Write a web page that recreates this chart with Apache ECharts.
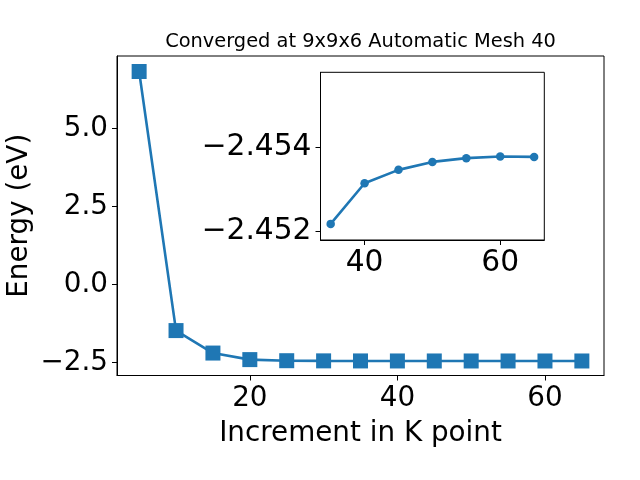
<!DOCTYPE html>
<html>
<head>
<meta charset="utf-8">
<script src="https://cdn.jsdelivr.net/npm/echarts@6/dist/echarts.min.js"></script>
<style>html,body{margin:0;padding:0;background:#fff;}#c{width:640px;height:480px;}</style>
</head>
<body>
<div id="c"></div>
<script>
// Main chart data
const kPoints = [5, 10, 15, 20, 25, 30, 35, 40, 45, 50, 55, 60, 65];
const energies = [6.82, -1.48, -2.20, -2.41, -2.445, -2.450, -2.45217, -2.45314, -2.45346, -2.45365, -2.45374, -2.45378, -2.45377];
// Inset data
const insetK = [35, 40, 45, 50, 55, 60, 65];
const insetEnergies = [-2.45217, -2.45314, -2.45346, -2.45365, -2.45374, -2.45378, -2.45377];
// Tick labels
const mainXTicks = [20, 40, 60];
const mainYTicks = [-2.5, 0, 2.5, 5];
const insetXTicks = [40, 60];
const insetYTicks = [-2.454, -2.452];

const titleText = 'Converged at 9x9x6 Automatic Mesh 40';
const xName = 'Increment in K point';
const yName = 'Energy (eV)';

const FONT = 'DejaVu Sans';
const C = '#1f77b4';
const fmt = (d) => (v) => (v < 0 ? '\u2212' : '') + Math.abs(v).toFixed(d);

const chart = echarts.init(document.getElementById('c'), null, {renderer: 'canvas'});

const axisCommon = {
  axisLine: {show: true, onZero: false, lineStyle: {color: '#000', width: 1}},
  splitLine: {show: false},
};

chart.setOption({
  animation: false,
  backgroundColor: '#fff',
  graphic: [{
    type: 'text', x: 360.5, y: 42,
    style: {text: titleText, font: '19.4px "DejaVu Sans"', fill: '#000', textAlign: 'center', textVerticalAlign: 'middle'}
  }],
  grid: [
    {left: 117, right: 36, top: 56, bottom: 104.5, show: true, borderColor: '#000', borderWidth: 1, backgroundColor: '#fff', containLabel: false, outerBoundsMode: 'none'},
    {left: 320.5, right: 95.7, top: 72.3, bottom: 240, show: true, borderColor: '#000', borderWidth: 1, backgroundColor: '#fff', containLabel: false, outerBoundsMode: 'none', z: 5}
  ],
  xAxis: [
    Object.assign({}, axisCommon, {
      type: 'value', gridIndex: 0, min: 2, max: 68,
      name: xName, nameLocation: 'middle', nameGap: 44, nameMoveOverlap: false,
      nameTextStyle: {fontFamily: FONT, fontSize: 27.8, color: '#000'},
      axisTick: {show: true, length: 5, lineStyle: {color: '#000'}, customValues: mainXTicks},
      axisLabel: {fontFamily: FONT, fontSize: 27.8, color: '#000', margin: 9, customValues: mainXTicks, formatter: (v) => String(v)}
    }),
    Object.assign({}, axisCommon, {
      type: 'value', gridIndex: 1, min: 33.5, max: 66.5, z: 6,
      axisTick: {show: true, length: 5, lineStyle: {color: '#000'}, customValues: insetXTicks},
      axisLabel: {fontFamily: FONT, fontSize: 29.7, color: '#000', margin: 8, customValues: insetXTicks, formatter: (v) => String(v)}
    })
  ],
  yAxis: [
    Object.assign({}, axisCommon, {
      type: 'value', gridIndex: 0, min: -2.919, max: 7.317,
      name: yName, nameLocation: 'middle', nameGap: 83, nameMoveOverlap: false,
      nameTextStyle: {fontFamily: FONT, fontSize: 27.8, color: '#000'},
      axisTick: {show: true, length: 5, lineStyle: {color: '#000'}, customValues: mainYTicks},
      axisLabel: {fontFamily: FONT, fontSize: 27.8, color: '#000', margin: 9, customValues: mainYTicks, formatter: fmt(1)}
    }),
    Object.assign({}, axisCommon, {
      type: 'value', gridIndex: 1, min: -2.45579, max: -2.451785, inverse: true, z: 6,
      axisTick: {show: true, length: 5, lineStyle: {color: '#000'}, customValues: insetYTicks},
      axisLabel: {fontFamily: FONT, fontSize: 29.7, color: '#000', margin: 9, customValues: insetYTicks, formatter: fmt(3)}
    })
  ],
  series: [
    {
      type: 'line', xAxisIndex: 0, yAxisIndex: 0,
      data: kPoints.map((k, i) => [k, energies[i]]),
      symbol: 'rect', symbolSize: 15, showSymbol: true,
      lineStyle: {color: C, width: 2.6}, itemStyle: {color: C},
      emphasis: {disabled: true}, z: 2
    },
    {
      type: 'line', xAxisIndex: 1, yAxisIndex: 1,
      data: insetK.map((k, i) => [k, insetEnergies[i]]),
      symbol: 'circle', symbolSize: 8.5, showSymbol: true,
      lineStyle: {color: C, width: 2.6}, itemStyle: {color: C},
      emphasis: {disabled: true}, z: 7
    }
  ]
});
</script>
</body>
</html>
